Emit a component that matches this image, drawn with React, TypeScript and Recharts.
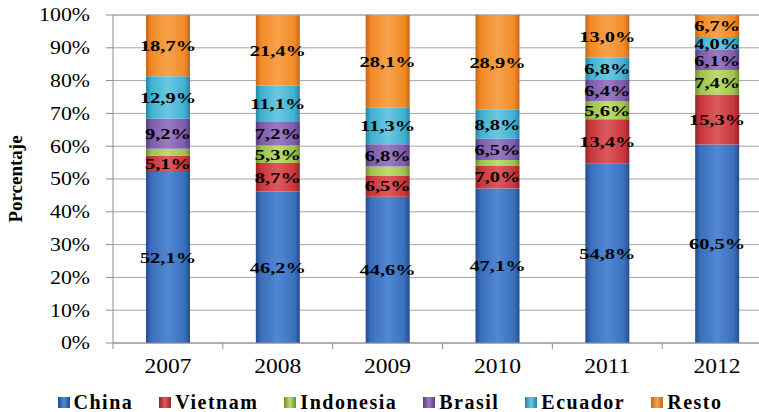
import React from 'react';
import { BarChart, Bar, XAxis, YAxis, CartesianGrid, Legend, LabelList } from 'recharts';

const years = ['2007', '2008', '2009', '2010', '2011', '2012'];
const china = [52.1, 46.2, 44.6, 47.1, 54.8, 60.5];
const vietnam = [5.1, 8.7, 6.5, 7.0, 13.4, 15.3];
const indonesia = [2.0, 5.3, 2.7, 1.7, 5.6, 7.4];
const brasil = [9.2, 7.2, 6.8, 6.5, 6.4, 6.1];
const ecuador = [12.9, 11.1, 11.3, 8.8, 6.8, 4.0];
const resto = [18.7, 21.4, 28.1, 28.9, 13.0, 6.7];
const yTicks = [0, 10, 20, 30, 40, 50, 60, 70, 80, 90, 100];

const series = [
  { key: 'China', values: china, base: '#3a6fbc', dark: '#234d8c', light: '#5288d2' },
  { key: 'Vietnam', values: vietnam, base: '#c8373b', dark: '#962225', light: '#dd5a5c' },
  { key: 'Indonesia', values: indonesia, base: '#9cc24c', dark: '#6b8f2c', light: '#bfdc70' },
  { key: 'Brasil', values: brasil, base: '#7d5caa', dark: '#573c80', light: '#9a7cc4' },
  { key: 'Ecuador', values: ecuador, base: '#3fb0d0', dark: '#2683a1', light: '#6cc8e2' },
  { key: 'Resto', values: resto, base: '#f28a26', dark: '#c7661a', light: '#f7a24c' },
];

const data = years.map((y, i) => {
  const row: any = { year: y };
  series.forEach((s) => { row[s.key] = s.values[i]; });
  return row;
});

const SERIF = '"Liberation Serif", "Times New Roman", serif';
const BAND = 659 / 6;

const fmt = (v: number) => v.toFixed(1).replace('.', ',') + '%';

const DataLabel = (props: any) => {
  const { x, y, width, height, value } = props;
  if (value == null || value < 3) return null;
  const cx = x + width / 2;
  const cy = y + height / 2;
  return (
    <text
      transform={`translate(${cx},${cy}) scale(1.32,1)`}
      textAnchor="middle"
      dy="0.35em"
      fontFamily={SERIF}
      fontWeight="bold"
      fontSize={15.5}
      fill="#000"
    >
      {fmt(value)}
    </text>
  );
};

const YTick = (props: any) => {
  const { x, y, payload } = props;
  return (
    <text
      transform={`translate(${x},${y}) scale(1.18,1)`}
      textAnchor="end"
      dy="0.35em"
      fontFamily={SERIF}
      fontSize={18.5}
      fill="#000"
    >
      {payload.value + '%'}
    </text>
  );
};

const XTick = (props: any) => {
  const { x, y, payload } = props;
  const axisY = y - 10;
  return (
    <g>
      <line x1={x - BAND / 2} x2={x - BAND / 2} y1={axisY} y2={axisY + 6} stroke="#8c8c8c" strokeWidth={1} />
      <text
        transform={`translate(${x},${y + 20}) scale(1.12,1)`}
        textAnchor="middle"
        fontFamily={SERIF}
        fontSize={21}
        fill="#000"
      >
        {payload.value}
      </text>
    </g>
  );
};

const YTitle = (props: any) => {
  const vb = props.viewBox || { x: 0, y: 15, width: 113, height: 328 };
  const cy = vb.y + vb.height / 2;
  return (
    <text
      transform={`translate(22,${cy}) rotate(-90)`}
      textAnchor="middle"
      fontFamily={SERIF}
      fontWeight="bold"
      fontSize={19}
      fill="#000"
    >
      Porcentaje
    </text>
  );
};

const LegendContent = () => (
  <div
    style={{
      position: 'relative',
      top: 7,
      display: 'flex',
      justifyContent: 'center',
      alignItems: 'center',
      gap: 26,
      height: 34,
      paddingLeft: 8,
      fontFamily: SERIF,
      fontWeight: 'bold',
      fontSize: 20,
      letterSpacing: 1.5,
      color: '#000',
    }}
  >
    {series.map((s) => (
      <div key={s.key} style={{ display: 'flex', alignItems: 'center' }}>
        <span
          style={{
            display: 'inline-block',
            width: 12,
            height: 11,
            marginRight: 4,
            background: `linear-gradient(to right, ${s.dark}, ${s.light} 50%, ${s.dark})`,
          }}
        />
        <span>{s.key}</span>
      </div>
    ))}
  </div>
);

export default function App() {
  return (
    <div style={{ position: 'absolute', left: 0, top: 0, width: 759, height: 412, overflow: 'hidden', background: '#fff' }}>
      <BarChart
        width={772}
        height={412}
        data={data}
        margin={{ top: 15, right: 0, left: 0, bottom: 0 }}
        barSize={44}
      >
        <defs>
          {series.map((s) => (
            <linearGradient key={s.key} id={`g-${s.key}`} x1="0" y1="0" x2="1" y2="0">
              <stop offset="0%" stopColor={s.dark} />
              <stop offset="12%" stopColor={s.base} />
              <stop offset="50%" stopColor={s.light} />
              <stop offset="88%" stopColor={s.base} />
              <stop offset="100%" stopColor={s.dark} />
            </linearGradient>
          ))}
        </defs>
        <CartesianGrid vertical={false} stroke="#a6a6a6" strokeWidth={1} />
        <XAxis
          dataKey="year"
          height={35}
          axisLine={{ stroke: '#8c8c8c' }}
          tickLine={false}
          tickSize={6}
          tickMargin={4}
          tick={<XTick />}
          interval={0}
        />
        <YAxis
          width={113}
          domain={[0, 100]}
          ticks={yTicks}
          interval={0}
          axisLine={{ stroke: '#8c8c8c' }}
          tickLine={{ stroke: '#8c8c8c' }}
          tickSize={7}
          tickMargin={16}
          tick={<YTick />}
          label={<YTitle />}
        />
        <Legend verticalAlign="bottom" height={34} content={<LegendContent />} />
        {series.map((s) => (
          <Bar key={s.key} dataKey={s.key} stackId="a" fill={`url(#g-${s.key})`} isAnimationActive={false}>
            <LabelList dataKey={s.key} content={<DataLabel />} />
          </Bar>
        ))}
      </BarChart>
    </div>
  );
}
